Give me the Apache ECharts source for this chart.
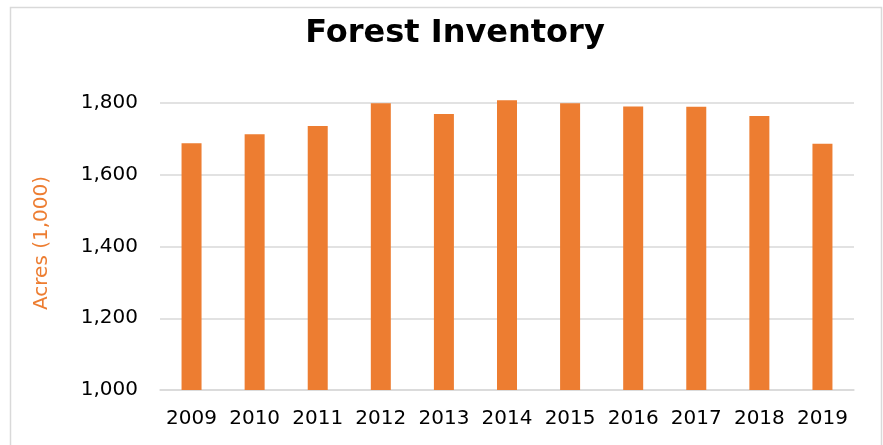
<!DOCTYPE html>
<html>
<head>
<meta charset="utf-8">
<script src="https://cdn.jsdelivr.net/npm/echarts@6/dist/echarts.min.js"></script>
<style>
  html, body { margin: 0; padding: 0; background: #fff; }
  #main { width: 883px; height: 445px; }
</style>
</head>
<body>
<div id="main"></div>
<script>
// forest inventory by year, acres in thousands
const years = ['2009', '2010', '2011', '2012', '2013', '2014', '2015', '2016', '2017', '2018', '2019']
const acres = [1688, 1713, 1736, 1800, 1770, 1808, 1800, 1791, 1790, 1764, 1687]

const font = 'Verdana, "DejaVu Sans", sans-serif'
const gridColor = '#d9d9d9'

let myChart = echarts.init(document.getElementById('main'))
let option = {
  backgroundColor: '#fff',
  animation: false,
  title: {
    text: 'Forest Inventory',
    left: 450,
    textAlign: 'center',
    top: 13,
    textStyle: { fontFamily: font, fontWeight: 'bold', fontSize: 32, color: '#000' }
  },
  // outer frame
  graphic: [{
    type: 'rect',
    shape: { x: 10.5, y: 7.5, width: 871, height: 460 },
    style: { fill: 'none', stroke: gridColor, lineWidth: 1.5 },
    silent: true
  }],
  // a little headroom above 1,800 so the 2014 bar can poke over the top line
  grid: { left: 160, right: 29, top: 96, bottom: 55 },
  xAxis: {
    type: 'category',
    data: years,
    axisLine: { lineStyle: { color: gridColor, width: 1.5 } },
    axisTick: { show: false },
    axisLabel: { fontFamily: font, fontSize: 20, color: '#000', margin: 19, interval: 0 }
  },
  yAxis: {
    type: 'value',
    min: 1000,
    max: 1820,
    interval: 200,
    name: 'Acres (1,000)',
    nameLocation: 'middle',
    nameGap: 108,
    nameTextStyle: { fontFamily: font, fontSize: 20, color: '#ed7d31' },
    axisLine: { show: false },
    axisTick: { show: false },
    splitLine: {
      lineStyle: {
        color: [gridColor, gridColor, gridColor, gridColor, gridColor, 'rgba(0,0,0,0)'],
        width: 1.5
      }
    },
    axisLabel: {
      fontFamily: font, fontSize: 20, color: '#000', margin: 22,
      showMaxLabel: false,
      formatter: v => (v > 1800 ? '' : v.toLocaleString('en-US'))
    }
  },
  series: [{
    type: 'bar',
    data: acres,
    barWidth: 20,
    itemStyle: { color: '#ed7d31' }
  }]
}
myChart.setOption(option)
</script>
</body>
</html>
